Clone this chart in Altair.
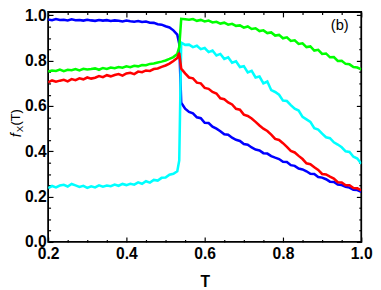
import altair as alt
import pandas as pd

T = [0.20,0.21,0.22,0.23,0.24,0.25,0.26,0.27,0.28,0.29,
     0.30,0.31,0.32,0.33,0.34,0.35,0.36,0.37,0.38,0.39,
     0.40,0.41,0.42,0.43,0.44,0.45,0.46,0.47,0.48,0.49,
     0.50,0.51,0.52,0.53,
     0.535,0.54,
     0.55,0.56,0.57,0.58,0.59,
     0.60,0.61,0.62,0.63,0.64,0.65,0.66,0.67,0.68,0.69,
     0.70,0.71,0.72,0.73,0.74,0.75,0.76,0.77,0.78,0.79,
     0.80,0.81,0.82,0.83,0.84,0.85,0.86,0.87,0.88,0.89,
     0.90,0.91,0.92,0.93,0.94,0.95,0.96,0.97,0.98,0.99,
     1.00]

blue = [0.982,0.979,0.984,0.980,0.981,0.978,0.983,0.979,0.980,0.977,
        0.981,0.978,0.976,0.980,0.977,0.979,0.975,0.978,0.976,0.973,
        0.977,0.974,0.972,0.975,0.971,0.973,0.968,0.967,0.961,0.959,
        0.952,0.947,0.934,0.915,
        0.875,0.615,
        0.588,0.574,0.568,0.550,0.546,
        0.526,0.525,0.509,0.500,0.489,0.475,0.473,0.460,0.451,0.446,
        0.432,0.429,0.417,0.408,0.404,0.392,0.390,0.379,0.372,0.366,
        0.354,0.353,0.339,0.336,0.324,0.320,0.312,0.301,0.300,0.287,
        0.284,0.277,0.266,0.265,0.254,0.251,0.244,0.240,0.230,0.229,
        0.221]

red = [0.705,0.713,0.707,0.712,0.716,0.709,0.719,0.714,0.722,0.718,
       0.726,0.721,0.725,0.732,0.727,0.736,0.731,0.737,0.741,0.734,
       0.744,0.747,0.741,0.752,0.749,0.757,0.755,0.763,0.766,0.773,
       0.779,0.787,0.799,0.812,
       0.835,0.765,
       0.744,0.726,0.722,0.703,0.700,
       0.680,0.676,0.662,0.655,0.634,0.630,0.616,0.607,0.588,0.584,
       0.562,0.556,0.545,0.530,0.514,0.500,0.490,0.474,0.455,0.450,
       0.436,0.420,0.402,0.395,0.380,0.366,0.347,0.343,0.330,0.318,
       0.300,0.298,0.288,0.280,0.264,0.263,0.250,0.250,0.238,0.237,
       0.228]

green = [0.752,0.757,0.755,0.761,0.754,0.760,0.758,0.763,0.757,0.764,
         0.761,0.763,0.766,0.760,0.768,0.764,0.770,0.767,0.772,0.769,
         0.775,0.771,0.778,0.775,0.781,0.780,0.786,0.788,0.792,0.796,
         0.801,0.808,0.816,0.830,
         0.860,0.985,
         0.983,0.981,0.984,0.976,0.980,
         0.973,0.977,0.969,0.972,0.964,0.968,0.959,0.963,0.954,0.956,
         0.946,0.951,0.940,0.943,0.931,0.934,0.922,0.925,0.911,0.914,
         0.899,0.903,0.887,0.890,0.874,0.877,0.860,0.863,0.845,0.848,
         0.830,0.832,0.815,0.816,0.799,0.800,0.786,0.784,0.772,0.770,
         0.762]

cyan = [0.238,0.247,0.241,0.249,0.252,0.245,0.256,0.250,0.243,0.248,
        0.239,0.246,0.241,0.250,0.244,0.249,0.246,0.253,0.248,0.256,
        0.251,0.257,0.253,0.263,0.257,0.268,0.262,0.274,0.271,0.283,
        0.284,0.297,0.301,0.312,
        0.360,0.880,
        0.870,0.871,0.860,0.866,0.851,
        0.856,0.838,0.845,0.823,0.830,0.808,0.815,0.791,0.797,0.772,
        0.776,0.748,0.755,0.726,0.730,0.700,0.708,0.670,0.662,0.650,
        0.624,0.622,0.604,0.588,0.580,0.552,0.541,0.530,0.502,0.496,
        0.478,0.462,0.458,0.440,0.430,0.418,0.400,0.397,0.376,0.368,
        0.345]

major_x = [0.2, 0.4, 0.6, 0.8, 1.0]
minor_x = [0.25, 0.3, 0.35, 0.45, 0.5, 0.55, 0.65, 0.7, 0.75, 0.85, 0.9, 0.95]
major_y = [0.0, 0.2, 0.4, 0.6, 0.8, 1.0]
minor_y = [0.05, 0.1, 0.15, 0.25, 0.3, 0.35, 0.45, 0.5, 0.55, 0.65, 0.7, 0.75, 0.85, 0.9, 0.95]

panel_label = "(b)"
x_title = "T"
y_title_parts = ["f", "X", "(T)"]

df = pd.DataFrame({"T": T, "blue": blue, "red": red, "green": green, "cyan": cyan})

FONT = "Liberation Sans"
xs = alt.Scale(domain=[0.2, 1.0], nice=False, zero=False)
ys = alt.Scale(domain=[0, 1.015], nice=False, zero=False)

xlab = alt.Axis(orient="bottom", values=major_x, format=".1f", labelFont=FONT,
                labelFontSize=16, labelFontWeight="bold", labelColor="black",
                labelPadding=4, ticks=False, domain=False, grid=False,
                labelFlush=False, labelOverlap=False,
                title=x_title, titleFont=FONT, titleFontSize=16,
                titleFontWeight="bold", titleColor="black", titlePadding=13)
ylab = alt.Axis(orient="left", values=major_y, format=".1f", labelFont=FONT,
                labelFontSize=16, labelFontWeight="bold", labelColor="black",
                labelPadding=2, ticks=False, domain=False, grid=False,
                labelFlush=False, labelOverlap=False, title="")


def tick_axis(orient, values, size):
    return alt.Axis(orient=orient, values=values, tickSize=size, offset=-size,
                    labels=False, domain=False, grid=False, ticks=True,
                    tickColor="black", tickWidth=1.2, title="")


def line(col, color, xaxis=None, yaxis=None):
    return alt.Chart(df).mark_line(color=color, strokeWidth=2.6, clip=True).encode(
        x=alt.X("T:Q", scale=xs, axis=xaxis),
        y=alt.Y(f"{col}:Q", scale=ys, axis=yaxis),
    )


layers = []
for xo, yo, vx, vy, sz in [("bottom", "left", major_x, major_y, 5),
                           ("bottom", "left", minor_x, minor_y, 2.5),
                           ("top", "right", major_x, major_y, 5),
                           ("top", "right", minor_x, minor_y, 2.5)]:
    layers.append(
        alt.Chart(df).mark_line(opacity=0).encode(
            x=alt.X("T:Q", scale=xs, axis=tick_axis(xo, vx, sz)),
            y=alt.Y("blue:Q", scale=ys, axis=tick_axis(yo, vy, sz)),
        )
    )

layers.append(line("blue", "#0000ff", xlab, ylab))
layers.append(line("cyan", "#00ffff"))
layers.append(line("green", "#00ff00"))
layers.append(line("red", "#ff0000"))

# panel label
layers.append(
    alt.Chart(pd.DataFrame({"s": [panel_label]})).mark_text(
        font=FONT, fontSize=15, color="black", align="center", baseline="middle"
    ).encode(text="s:N", x=alt.value(298), y=alt.value(13))
)

# y title pieces (rotated)
yt = [(y_title_parts[0], 15, "italic", -33, 128),
      (y_title_parts[1], 10, "normal", -29, 123),
      (y_title_parts[2], 13, "normal", -33, 116)]
for s, fs, st, px, py in yt:
    layers.append(
        alt.Chart(pd.DataFrame({"s": [s]})).mark_text(
            font=FONT, fontSize=fs, fontStyle=st, color="black", angle=270,
            align="left", baseline="middle"
        ).encode(text="s:N", x=alt.value(px), y=alt.value(py))
    )

chart = alt.layer(*layers).resolve_scale(
    x="shared", y="shared"
).resolve_axis(
    x="independent", y="independent"
).properties(
    width=320, height=235,
    autosize=alt.AutoSizeParams(type="none"),
    padding={"left": 41, "top": 1, "right": 12, "bottom": 46},
).configure_view(stroke="black", strokeWidth=1.8)

chart.save("out.html", embed_options={"renderer": "svg", "actions": False})
